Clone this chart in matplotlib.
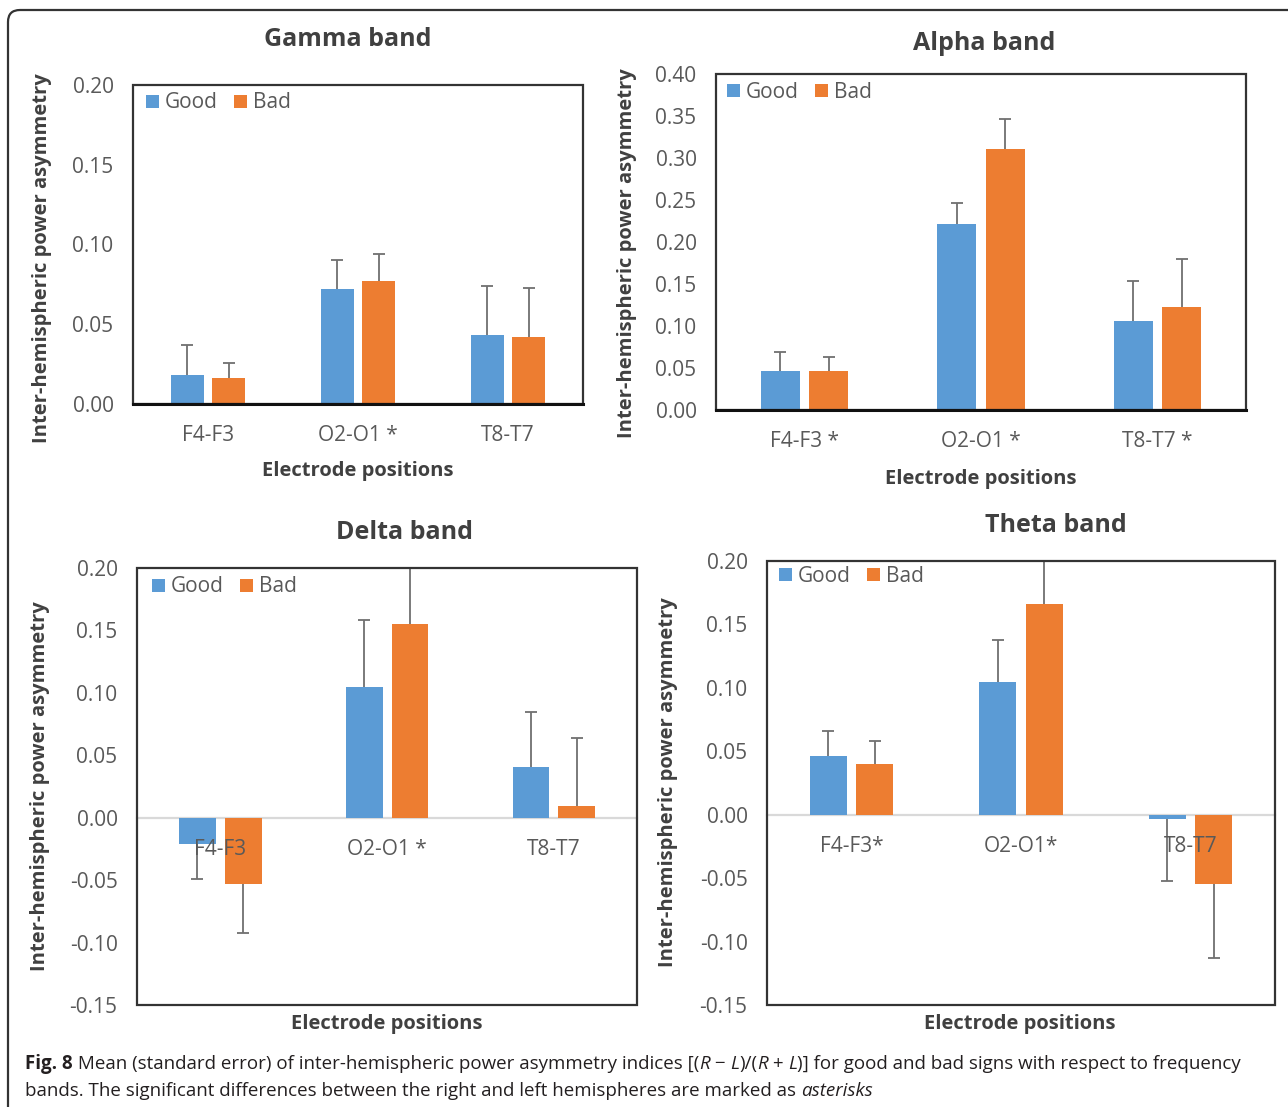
import matplotlib
matplotlib.use("Agg")
import matplotlib.pyplot as plt
from matplotlib.patches import Patch, Rectangle, FancyBboxPatch
from matplotlib.transforms import IdentityTransform
import numpy as np

plt.rcParams['font.family'] = ['Open Sans', 'DejaVu Sans']
plt.rcParams['axes.unicode_minus'] = False

# ---------------- data ----------------
categories = ["F4-F3", "O2-O1", "T8-T7"]

gamma_labels = ["F4-F3", "O2-O1 *", "T8-T7"]
gamma_good = [0.018, 0.072, 0.043]
gamma_good_se = [0.019, 0.018, 0.031]
gamma_bad = [0.016, 0.077, 0.042]
gamma_bad_se = [0.010, 0.017, 0.031]

alpha_labels = ["F4-F3 *", "O2-O1 *", "T8-T7 *"]
alpha_good = [0.046, 0.222, 0.106]
alpha_good_se = [0.023, 0.025, 0.048]
alpha_bad = [0.046, 0.311, 0.123]
alpha_bad_se = [0.017, 0.035, 0.057]

delta_labels = ["F4-F3", "O2-O1 *", "T8-T7"]
delta_good = [-0.021, 0.105, 0.041]
delta_good_se = [0.028, 0.053, 0.044]
delta_bad = [-0.053, 0.155, 0.009]
delta_bad_se = [0.039, 0.060, 0.055]

theta_labels = ["F4-F3*", "O2-O1*", "T8-T7"]
theta_good = [0.046, 0.105, -0.003]
theta_good_se = [0.020, 0.033, 0.049]
theta_bad = [0.040, 0.166, -0.055]
theta_bad_se = [0.018, 0.050, 0.058]

series_names = ["Good", "Bad"]
BLUE = "#5B9BD5"
ORANGE = "#ED7D31"

W, H = 1288, 1107
fig = plt.figure(figsize=(W / 100, H / 100), dpi=100)


def fx(x):
    return x / W


def fy(y):
    return 1 - y / H


panels = [
    dict(title="Gamma band", labels=gamma_labels, good=gamma_good, gse=gamma_good_se,
         bad=gamma_bad, bse=gamma_bad_se, box=(133, 85, 583, 404), ylim=(0.0, 0.20),
         ticks=np.arange(0, 0.201, 0.05), title_xy=(348, 40), xl_xy=(358, 471),
         yl_xy=(42, 258), leg_xy=(146, 103), neg=False),
    dict(title="Alpha band", labels=alpha_labels, good=alpha_good, gse=alpha_good_se,
         bad=alpha_bad, bse=alpha_bad_se, box=(716, 74, 1246, 410), ylim=(0.0, 0.40),
         ticks=np.arange(0, 0.401, 0.05), title_xy=(984, 43), xl_xy=(981, 479),
         yl_xy=(627, 253), leg_xy=(727, 92), neg=False),
    dict(title="Delta band", labels=delta_labels, good=delta_good, gse=delta_good_se,
         bad=delta_bad, bse=delta_bad_se, box=(137, 568, 637, 1005), ylim=(-0.15, 0.20),
         ticks=np.arange(-0.15, 0.201, 0.05), title_xy=(404, 533), xl_xy=(387, 1024),
         yl_xy=(40, 786), leg_xy=(152, 587), neg=True),
    dict(title="Theta band", labels=theta_labels, good=theta_good, gse=theta_good_se,
         bad=theta_bad, bse=theta_bad_se, box=(767, 561, 1275, 1005), ylim=(-0.15, 0.20),
         ticks=np.arange(-0.15, 0.201, 0.05), title_xy=(1056, 525), xl_xy=(1020, 1024),
         yl_xy=(668, 782), leg_xy=(779, 576), neg=True),
]

TXT = "#595959"
DARK = "#404040"
ECOL = "#707070"
bw = 0.22
off = 0.137


def draw_series(ax, xpos, vals, se, color, label):
    vals = np.asarray(vals, dtype=float)
    se = np.asarray(se, dtype=float)
    ax.bar(xpos, vals, bw, color=color, label=label, zorder=1)
    # error bars extend away from zero (one-sided, as in the original)
    tip = vals + np.sign(vals) * se
    ax.vlines(xpos, vals, tip, colors=ECOL, lw=1.3, zorder=2)
    ax.scatter(xpos, tip, marker="_", s=70, c=ECOL, linewidths=1.3, zorder=2)


for p in panels:
    x0, y0, x1, y1 = p["box"]
    ax = fig.add_axes([fx(x0), fy(y1), (x1 - x0) / W, (y1 - y0) / H])
    x = np.arange(len(categories))
    draw_series(ax, x - off, p["good"], p["gse"], BLUE, series_names[0])
    draw_series(ax, x + off, p["bad"], p["bse"], ORANGE, series_names[1])
    ax.set_xlim(-0.5, 2.5)
    ax.set_ylim(*p["ylim"])
    ax.set_yticks(p["ticks"])
    ax.set_yticklabels(["%.2f" % t if abs(t) > 1e-9 else "0.00" for t in p["ticks"]])
    ax.set_xticks(x)
    ax.set_xticklabels(p["labels"])
    for s in ax.spines.values():
        s.set_visible(False)
    sp = ax.spines["bottom"]
    sp.set_visible(True)
    sp.set_position(("data", 0))
    if p["neg"]:
        sp.set_color("#d9d9d9")
        sp.set_linewidth(1.6)
        sp.set_zorder(0.5)
    else:
        sp.set_color("#111111")
        sp.set_linewidth(2.2)
        sp.set_zorder(3)
    ax.xaxis.set_zorder(4)
    ax.add_patch(Rectangle((0, 0), 1, 1, transform=ax.transAxes, fill=False,
                           ec="#333333", lw=1.6, clip_on=False, zorder=3))
    ax.tick_params(axis="x", length=0, pad=15, labelsize=15, labelcolor=TXT)
    ax.tick_params(axis="y", length=0, pad=14, labelsize=15, labelcolor=TXT)
    ax.legend(handles=[Patch(fc=BLUE, label=series_names[0]),
                       Patch(fc=ORANGE, label=series_names[1])],
              loc="center left", bbox_to_anchor=(fx(p["leg_xy"][0]), fy(p["leg_xy"][1])),
              bbox_transform=fig.transFigure, ncol=2, frameon=False,
              handlelength=0.6, handleheight=0.6, handletextpad=0.3,
              columnspacing=0.8, borderpad=0, borderaxespad=0, fontsize=15,
              labelcolor=TXT)
    fig.text(fx(p["title_xy"][0]), fy(p["title_xy"][1]), p["title"], ha="center",
             va="center", fontsize=18, fontweight="bold", color=DARK)
    fig.text(fx(p["xl_xy"][0]), fy(p["xl_xy"][1]), "Electrode positions", ha="center",
             va="center", fontsize=14.5, fontweight="bold", color=DARK)
    fig.text(fx(p["yl_xy"][0]), fy(p["yl_xy"][1]), "Inter-hemispheric power asymmetry",
             ha="center", va="center", rotation=90, fontsize=14.5, fontweight="bold",
             color=DARK)

# outer rounded frame (right and bottom run off the image)
fig.patches.append(FancyBboxPatch((8, -30), 1320, H - 10 + 30,
                                  boxstyle="round,pad=0,rounding_size=12",
                                  transform=IdentityTransform(), fill=False,
                                  ec="#333333", lw=1.6))

# caption
line1 = [("Fig. 8", "bold", "normal"),
         (" Mean (standard error) of inter-hemispheric power asymmetry indices [(", "normal", "normal"),
         ("R", "normal", "italic"), (" \u2212 ", "normal", "normal"), ("L", "normal", "italic"),
         (")/(", "normal", "normal"), ("R", "normal", "italic"), (" + ", "normal", "normal"),
         ("L", "normal", "italic"),
         (")] for good and bad signs with respect to frequency", "normal", "normal")]
line2 = [("bands. The significant differences between the right and left hemispheres are marked as ", "normal", "normal"),
         ("asterisks", "normal", "italic")]

renderer = fig.canvas.get_renderer()


def piece_width(s, weight, style, size):
    t1 = fig.text(0, 0, "x" + s + "x", fontsize=size, fontweight=weight, fontstyle=style)
    t2 = fig.text(0, 0, "xx", fontsize=size, fontweight=weight, fontstyle=style)
    w = t1.get_window_extent(renderer).width - t2.get_window_extent(renderer).width
    t1.remove()
    t2.remove()
    return w


def draw_line(pieces, x, y, size):
    cx = x
    for s, wgt, sty in pieces:
        fig.text(fx(cx), fy(y), s, fontsize=size, fontweight=wgt, fontstyle=sty,
                 color="#231f20", ha="left", va="center")
        cx += piece_width(s, wgt, sty, size)


size = 13.0
total = sum(piece_width(s, w, st, size) for s, w, st in line1)
size = size * (1211.0 / total)
draw_line(line1, 25, 1064, size)
draw_line(line2, 25, 1091, size)

fig.savefig("out.png", dpi=100)
